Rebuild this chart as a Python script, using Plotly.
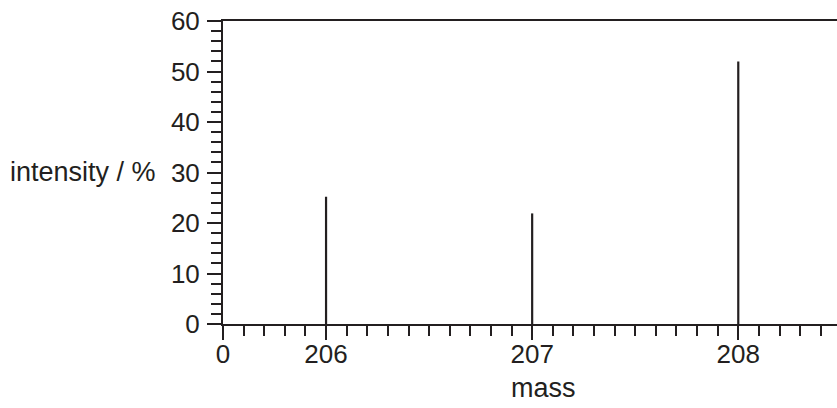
import plotly.graph_objects as go

masses = [206, 207, 208]
intensities = [25.2, 21.9, 52.0]
x_tick_vals = [205.5, 206, 207, 208]
x_tick_text = ["0", "206", "207", "208"]
y_tick_vals = [0, 10, 20, 30, 40, 50, 60]

xs, ys = [], []
for m, v in zip(masses, intensities):
    xs += [m, m, None]
    ys += [0, v, None]

FONT = "Liberation Sans, Arial, Helvetica, sans-serif"
INK = "#231f20"

fig = go.Figure()
fig.add_trace(go.Scatter(x=xs, y=ys, mode="lines",
                         line=dict(color=INK, width=2.2),
                         showlegend=False, hoverinfo="skip"))

fig.update_layout(
    width=837, height=408,
    margin=dict(l=223, r=0, t=21, b=84, autoexpand=False),
    paper_bgcolor="white", plot_bgcolor="white",
    font=dict(family=FONT, size=26, color=INK),
    xaxis=dict(
        range=[205.5, 208.479], showgrid=False, zeroline=False,
        automargin=False,
        showline=True, linecolor=INK, linewidth=2, mirror=True,
        tickmode="array", tickvals=x_tick_vals, ticktext=x_tick_text,
        ticks="outside", ticklen=14, tickwidth=2, tickcolor=INK,
        ticklabelstandoff=-8, ticklabeloverflow="allow",
        minor=dict(tick0=205.5, dtick=0.1, ticks="outside", ticklen=10,
                   tickwidth=2, tickcolor=INK, showgrid=False),
        tickfont=dict(size=26),
    ),
    yaxis=dict(
        range=[0, 60], showgrid=False, zeroline=False,
        automargin=False,
        showline=True, linecolor=INK, linewidth=2,
        tickmode="array", tickvals=y_tick_vals,
        ticks="outside", ticklen=14, tickwidth=2, tickcolor=INK,
        ticklabelstandoff=2, ticklabeloverflow="allow",
        minor=dict(tick0=0, dtick=2, ticks="outside", ticklen=10,
                   tickwidth=2, tickcolor=INK, showgrid=False),
        tickfont=dict(size=26),
    ),
    annotations=[
        dict(text="intensity / %", xref="paper", yref="paper",
             x=-0.3508, y=0.501, xanchor="left", yanchor="middle",
             showarrow=False, font=dict(size=27)),
        dict(text="mass", xref="x", yref="paper",
             x=207.057, y=-0.211, xanchor="center", yanchor="middle",
             showarrow=False, font=dict(size=27)),
    ],
)

fig.write_html(
    "out.html",
    config={"displayModeBar": False, "staticPlot": True},
    post_script="document.body.style.margin='0';document.body.style.overflow='hidden';",
)
